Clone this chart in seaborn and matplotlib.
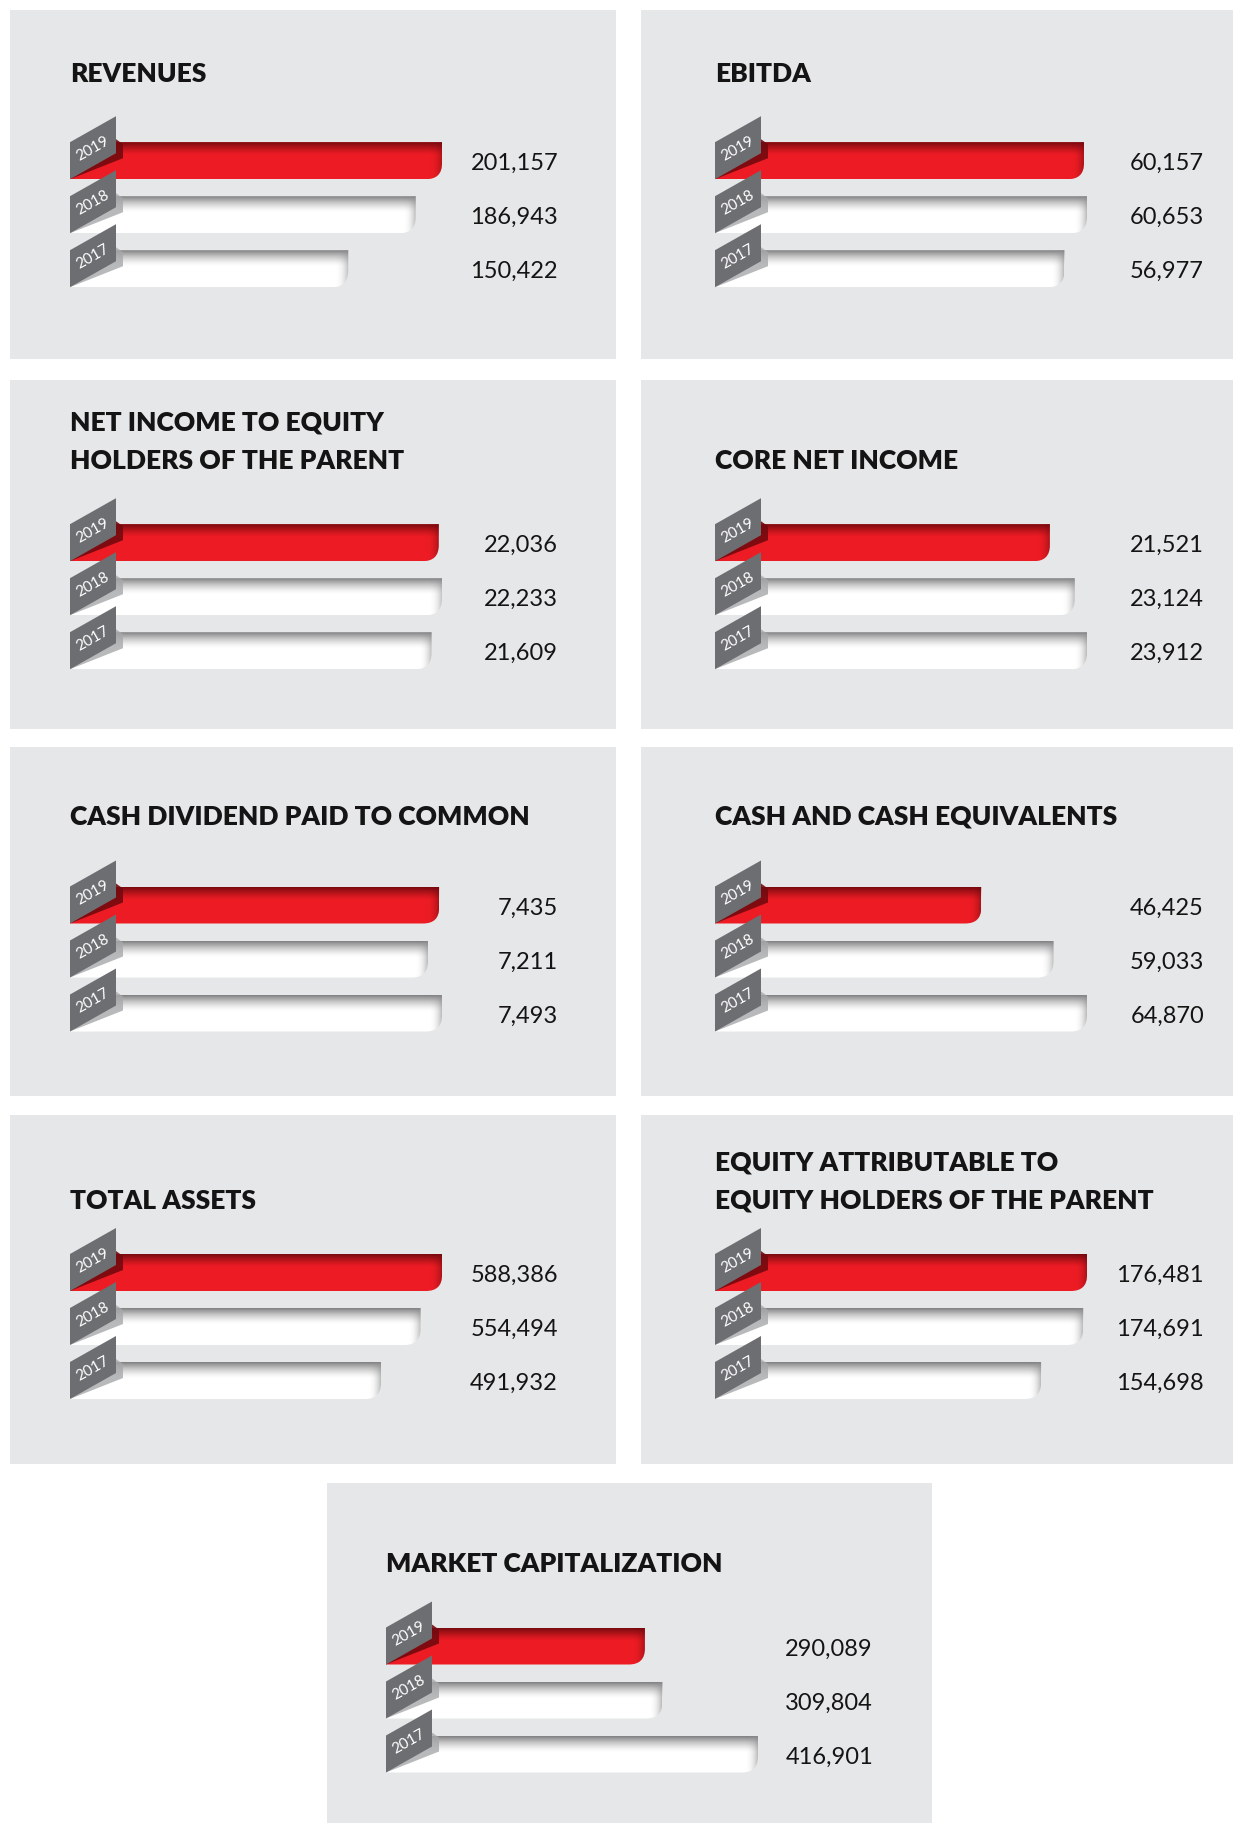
import numpy as np
import matplotlib.pyplot as plt
import seaborn as sns
from matplotlib.patches import Polygon, Rectangle, PathPatch
from matplotlib.path import Path

sns.set_style("white")
plt.rcParams["font.family"] = ["Lato", "DejaVu Sans"]

# Data
years = ["2019", "2018", "2017"]
titles = [
    ["REVENUES"],
    ["EBITDA"],
    ["NET INCOME TO EQUITY", "HOLDERS OF THE PARENT"],
    ["CORE NET INCOME"],
    ["CASH DIVIDEND PAID TO COMMON"],
    ["CASH AND CASH EQUIVALENTS"],
    ["TOTAL ASSETS"],
    ["EQUITY ATTRIBUTABLE TO", "EQUITY HOLDERS OF THE PARENT"],
    ["MARKET CAPITALIZATION"],
]
revenues = [201157, 186943, 150422]
ebitda = [60157, 60653, 56977]
net_income = [22036, 22233, 21609]
core_net_income = [21521, 23124, 23912]
cash_dividend = [7435, 7211, 7493]
cash_equivalents = [46425, 59033, 64870]
total_assets = [588386, 554494, 491932]
equity = [176481, 174691, 154698]
market_cap = [290089, 309804, 416901]
series = [revenues, ebitda, net_income, core_net_income, cash_dividend,
          cash_equivalents, total_assets, equity, market_cap]

# Colours
RED = "#ed1c24"
DARK_RED = (0.45, 0.04, 0.06)
GREY_TAG = "#6d6e71"
PANEL = "#e6e7e8"
TEXT = "#141414"

# Layout (pixels, top-left origin)
W, H = 1233, 1824
cols = ["L", "R", "L", "R", "L", "R", "L", "R", "C"]
rows = [0, 0, 1, 1, 2, 2, 3, 3, 4]
col_left = {"L": 10, "R": 641, "C": 327}
col_width = {"L": 606, "R": 592, "C": 605}
content_off = {"L": 60, "R": 74, "C": 59}
value_off = {"L": 548, "R": 563, "C": 546}
row_top = [11, 381, 748, 1116, 1484]
row_h = [349, 349, 349, 349, 340]
title_y = [61, 78, 67, 83, 78]
bar_y = [150.7, 162.7, 158, 157.5, 163]
BAR_LEN = 372
STEP = 54
BAR_H = 37


def fx(x):
    return x / W


def fy(y):
    return 1 - y / H


fig = plt.figure(figsize=(W / 100, H / 100), dpi=100)
fig.patch.set_facecolor("white")

for k, vals in enumerate(series):
    c, r = cols[k], rows[k]
    left = col_left[c]
    top = row_top[r]

    # panel background
    fig.add_artist(Rectangle((fx(left), fy(top + row_h[r])), col_width[c] / W,
                             row_h[r] / H, transform=fig.transFigure,
                             facecolor=PANEL, edgecolor="none", zorder=0))

    # title
    lines = titles[k]
    for j, line in enumerate(lines):
        ly = title_y[r] - 38 * (len(lines) - 1 - j)
        fig.text(fx(left + content_off[c]), fy(top + ly + 10), line,
                 fontsize=19, fontweight="heavy", color=TEXT, va="baseline")

    # bar axes
    bx = left + content_off[c]
    by = top + bar_y[r] - STEP / 2
    ax = fig.add_axes([fx(bx), fy(by + 3 * STEP), BAR_LEN / W, 3 * STEP / H])
    sns.barplot(x=vals, y=years, hue=years, order=years, hue_order=years,
                palette=[RED, "white", "white"], orient="h", legend=False,
                width=BAR_H / STEP, linewidth=0, saturation=1, ax=ax)
    xmax = max(vals)
    ax.set_xlim(0, xmax)
    ax.set_ylim(2.5, -0.5)
    ax.set_axis_off()

    sx = xmax / BAR_LEN
    sy = 1 / STEP

    for p in list(ax.patches):
        x0, w = p.get_x(), p.get_width()
        yt, h = p.get_y(), p.get_height()
        x1, yb = x0 + w, yt + h
        i = int(round(yt + h / 2))
        red = i == 0

        # rounded bottom-right corner
        rx, ry = 16 * sx, 16 * sy
        verts = [(x0, yt), (x1, yt), (x1, yb - ry), (x1, yb), (x1 - rx, yb),
                 (x0, yb), (x0, yt)]
        codes = [Path.MOVETO, Path.LINETO, Path.LINETO, Path.CURVE3,
                 Path.CURVE3, Path.LINETO, Path.CLOSEPOLY]
        clip = PathPatch(Path(verts, codes), transform=ax.transData,
                         facecolor="none", edgecolor="none")
        p.set_clip_path(clip)

        # top inner shadow
        n = 64
        t = np.linspace(0, 1, n)
        img = np.zeros((n, 1, 4))
        if red:
            img[:, 0, :3] = DARK_RED
            img[:, 0, 3] = np.clip(1 - t / 0.35, 0, 1) ** 1.3 * 0.95
        else:
            img[:, 0, :3] = (0.42, 0.42, 0.43)
            img[:, 0, 3] = np.clip(1 - t / 0.45, 0, 1) ** 1.6 * 0.85
        im = ax.imshow(img, extent=(x0, x1, yb, yt), aspect="auto",
                       origin="upper", interpolation="bilinear", zorder=2.1)
        im.set_clip_path(clip)

        # right end shading
        img2 = np.zeros((1, n, 4))
        if red:
            img2[0, :, :3] = DARK_RED
            img2[0, :, 3] = t ** 2.5 * 0.55
        else:
            img2[0, :, :3] = (0.55, 0.55, 0.56)
            img2[0, :, 3] = t ** 2.5 * 0.6
        im2 = ax.imshow(img2, extent=(x1 - 14 * sx, x1, yb, yt), aspect="auto",
                        origin="upper", interpolation="bilinear", zorder=2.2)
        im2.set_clip_path(clip)

        # tag shadow
        sh = [(46, -3), (53, 2), (53, 16), (0, 37)]
        ax.add_patch(Polygon([(x0 + a * sx, yt + b * sy) for a, b in sh],
                             closed=True, facecolor=DARK_RED if red else "#a7a8aa",
                             edgecolor="none", alpha=0.9 if red else 0.8,
                             zorder=2.5, clip_on=False))

        # year tag
        tag = [(0, 0), (46, -26), (46, 11), (0, 37)]
        ax.add_patch(Polygon([(x0 + a * sx, yt + b * sy) for a, b in tag],
                             closed=True, facecolor=GREY_TAG, edgecolor="none",
                             zorder=3, clip_on=False))
        ax.text(x0 + 23 * sx, yt + 5.5 * sy, years[i], color="white",
                fontsize=11, rotation=29.5, rotation_mode="anchor",
                ha="center", va="center", zorder=4, clip_on=False)

        # value label
        ax.annotate(f"{vals[i]:,}", xy=(left + value_off[c], i + 8.5 * sy),
                    xycoords=("figure pixels", "data"), ha="right",
                    va="baseline", fontsize=17, fontweight="normal",
                    color=TEXT, annotation_clip=False)

fig.savefig("out.png", dpi=100, facecolor="white")
